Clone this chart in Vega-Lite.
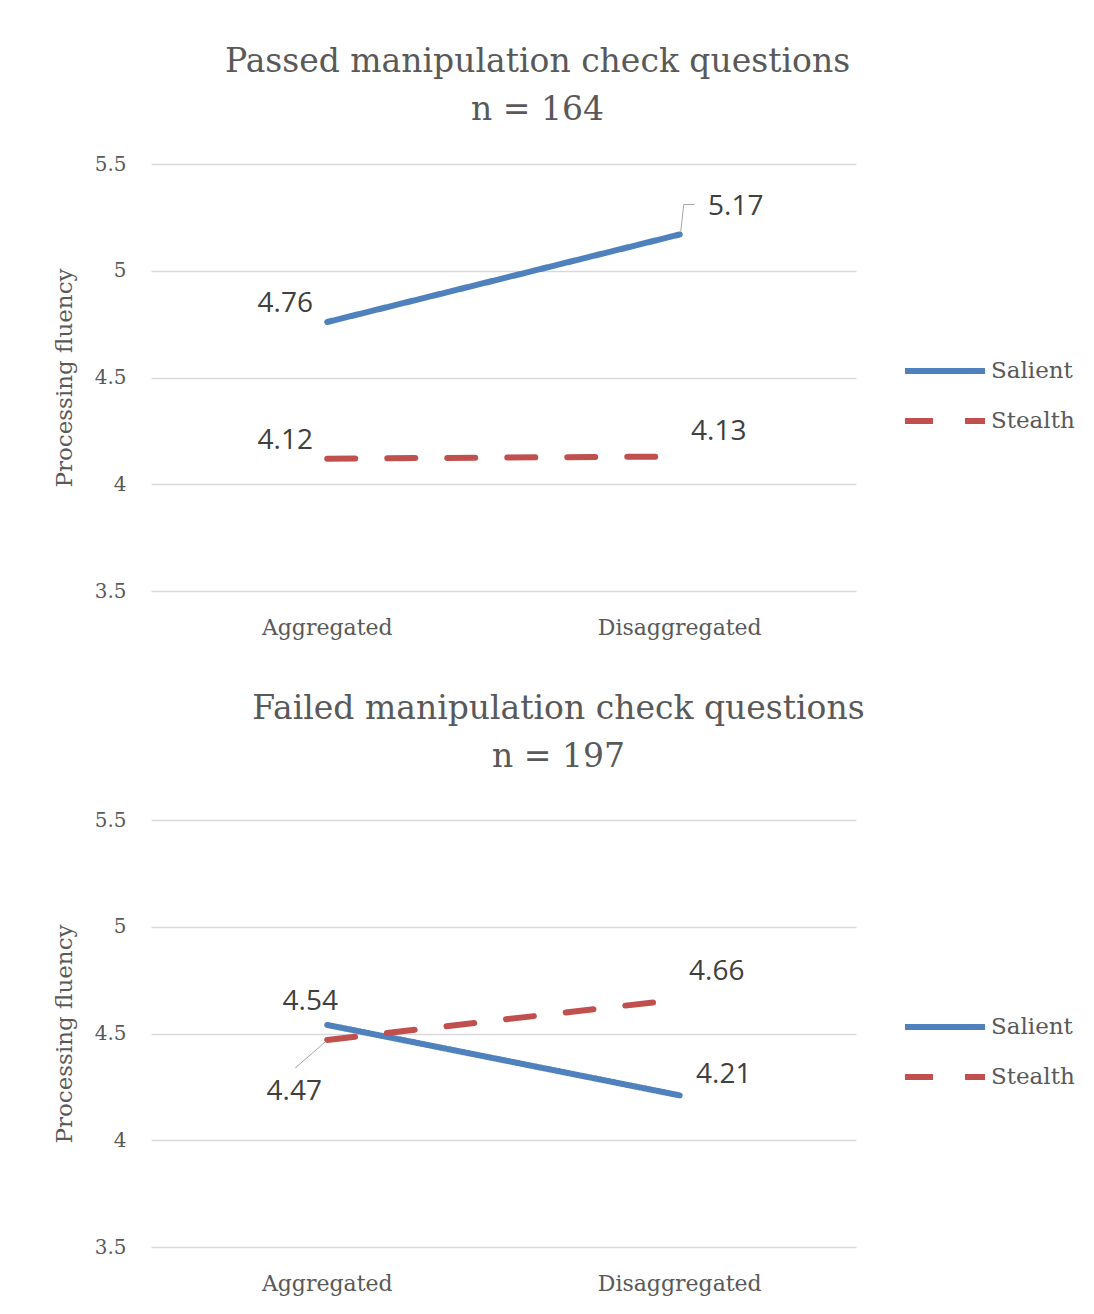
{
  "$schema": "https://vega.github.io/schema/vega-lite/v6.json",
  "background": "white",
  "padding": {"left": 53, "top": 46, "right": 10, "bottom": 20},
  "autosize": {"type": "pad"},
  "datasets": {
    "passed": [
      {"condition": "Aggregated", "series": "Salient", "fluency": 4.76},
      {"condition": "Disaggregated", "series": "Salient", "fluency": 5.17},
      {"condition": "Aggregated", "series": "Stealth", "fluency": 4.12},
      {"condition": "Disaggregated", "series": "Stealth", "fluency": 4.13}
    ],
    "failed": [
      {"condition": "Aggregated", "series": "Salient", "fluency": 4.54},
      {"condition": "Disaggregated", "series": "Salient", "fluency": 4.21},
      {"condition": "Aggregated", "series": "Stealth", "fluency": 4.47},
      {"condition": "Disaggregated", "series": "Stealth", "fluency": 4.66}
    ]
  },
  "spacing": 55,
  "resolve": {"legend": {"color": "independent", "strokeDash": "independent"}},
  "vconcat": [
    {
      "width": 705,
      "height": 427,
      "title": {"text": ["Passed manipulation check questions", "n = 164"], "dx": 34, "offset": 27},
      "data": {"name": "passed"},
      "encoding": {
        "x": {"field": "condition", "type": "nominal", "sort": ["Aggregated", "Disaggregated"], "axis": {"title": null}},
        "y": {"field": "fluency", "type": "quantitative", "scale": {"domain": [3.5, 5.5]}, "axis": {"values": [3.5, 4, 4.5, 5, 5.5], "format": "~g", "title": "Processing fluency"}}
      },
      "layer": [
        {
          "transform": [{"filter": "datum.condition == 'Disaggregated' && datum.series == 'Salient'"}],
          "mark": {"type": "rule", "color": "#a6a6a6", "strokeWidth": 1, "xOffset": 1, "yOffset": -3, "x2Offset": 4, "y2Offset": -30},
          "encoding": {"x2": {"field": "condition"}, "y2": {"field": "fluency"}}
        },
        {
          "transform": [{"filter": "datum.condition == 'Disaggregated' && datum.series == 'Salient'"}],
          "mark": {"type": "rule", "color": "#a6a6a6", "strokeWidth": 1, "xOffset": 4, "yOffset": -30, "x2Offset": 15, "y2Offset": -30},
          "encoding": {"x2": {"field": "condition"}, "y2": {"field": "fluency"}}
        },
        {
          "mark": {"type": "line", "strokeWidth": 6, "strokeCap": "round"},
          "encoding": {
            "color": {"field": "series", "type": "nominal", "scale": {"domain": ["Salient", "Stealth"], "range": ["#4F81BD", "#C0504D"]}, "legend": {"title": null, "orient": "none", "legendX": 781, "legendY": 194}},
            "strokeDash": {"field": "series", "type": "nominal", "scale": {"domain": ["Salient", "Stealth"], "range": [[1, 0], [28, 32]]}, "legend": {"title": null, "orient": "none", "legendX": 781, "legendY": 194}}
          }
        },
        {
          "transform": [{"filter": "datum.condition == 'Aggregated'"}],
          "mark": {"type": "text", "dx": -42, "dy": -18},
          "encoding": {"text": {"field": "fluency", "type": "quantitative", "format": ".2f"}}
        },
        {
          "transform": [{"filter": "datum.condition == 'Disaggregated' && datum.series == 'Salient'"}],
          "mark": {"type": "text", "dx": 56, "dy": -27},
          "encoding": {"text": {"field": "fluency", "type": "quantitative", "format": ".2f"}}
        },
        {
          "transform": [{"filter": "datum.condition == 'Disaggregated' && datum.series == 'Stealth'"}],
          "mark": {"type": "text", "dx": 39, "dy": -24},
          "encoding": {"text": {"field": "fluency", "type": "quantitative", "format": ".2f"}}
        }
      ]
    },
    {
      "width": 705,
      "height": 427,
      "title": {"text": ["Failed manipulation check questions", "n = 197"], "dx": 55, "offset": 36},
      "data": {"name": "failed"},
      "encoding": {
        "x": {"field": "condition", "type": "nominal", "sort": ["Aggregated", "Disaggregated"], "axis": {"title": null}},
        "y": {"field": "fluency", "type": "quantitative", "scale": {"domain": [3.5, 5.5]}, "axis": {"values": [3.5, 4, 4.5, 5, 5.5], "format": "~g", "title": "Processing fluency"}}
      },
      "layer": [
        {
          "transform": [{"filter": "datum.condition == 'Aggregated' && datum.series == 'Stealth'"}],
          "mark": {"type": "rule", "color": "#a6a6a6", "strokeWidth": 1, "xOffset": -2, "yOffset": 2, "x2Offset": -32, "y2Offset": 28},
          "encoding": {"x2": {"field": "condition"}, "y2": {"field": "fluency"}}
        },
        {
          "mark": {"type": "line", "strokeWidth": 6, "strokeCap": "round"},
          "encoding": {
            "color": {"field": "series", "type": "nominal", "scale": {"domain": ["Salient", "Stealth"], "range": ["#4F81BD", "#C0504D"]}, "legend": {"title": null, "orient": "none", "legendX": 781, "legendY": 194}},
            "strokeDash": {"field": "series", "type": "nominal", "scale": {"domain": ["Salient", "Stealth"], "range": [[1, 0], [28, 32]]}, "legend": {"title": null, "orient": "none", "legendX": 781, "legendY": 194}}
          }
        },
        {
          "transform": [{"filter": "datum.condition == 'Aggregated' && datum.series == 'Salient'"}],
          "mark": {"type": "text", "dx": -17, "dy": -23},
          "encoding": {"text": {"field": "fluency", "type": "quantitative", "format": ".2f"}}
        },
        {
          "transform": [{"filter": "datum.condition == 'Aggregated' && datum.series == 'Stealth'"}],
          "mark": {"type": "text", "dx": -33, "dy": 52},
          "encoding": {"text": {"field": "fluency", "type": "quantitative", "format": ".2f"}}
        },
        {
          "transform": [{"filter": "datum.condition == 'Disaggregated' && datum.series == 'Stealth'"}],
          "mark": {"type": "text", "dx": 37, "dy": -27},
          "encoding": {"text": {"field": "fluency", "type": "quantitative", "format": ".2f"}}
        },
        {
          "transform": [{"filter": "datum.condition == 'Disaggregated' && datum.series == 'Salient'"}],
          "mark": {"type": "text", "dx": 44, "dy": -20},
          "encoding": {"text": {"field": "fluency", "type": "quantitative", "format": ".2f"}}
        }
      ]
    }
  ],
  "config": {
    "view": {"stroke": null},
    "title": {"font": "DejaVu Serif", "fontSize": 33, "fontWeight": "normal", "color": "#595959", "lineHeight": 48, "anchor": "middle"},
    "axis": {"domain": false, "ticks": false, "tickSize": 0, "labelColor": "#595959", "labelFont": "DejaVu Serif", "titleFont": "DejaVu Serif", "titleColor": "#595959", "titleFontWeight": "normal"},
    "axisX": {"grid": false, "labelAngle": 0, "labelFontSize": 22, "labelPadding": 26},
    "axisY": {"grid": true, "gridColor": "#d9d9d9", "gridWidth": 1.5, "labelFontSize": 20, "labelPadding": 25, "titleFontSize": 23, "titlePadding": 18},
    "legend": {"symbolType": "M-4,0H4", "symbolSize": 400, "symbolStrokeWidth": 6, "labelFont": "DejaVu Serif", "labelFontSize": 23, "labelColor": "#595959", "labelOffset": 33, "rowPadding": 25, "encode": {"symbols": {"update": {"strokeCap": {"value": "round"}}}}},
    "text": {"font": "Open Sans", "fontSize": 28, "color": "#404040"}
  }
}
